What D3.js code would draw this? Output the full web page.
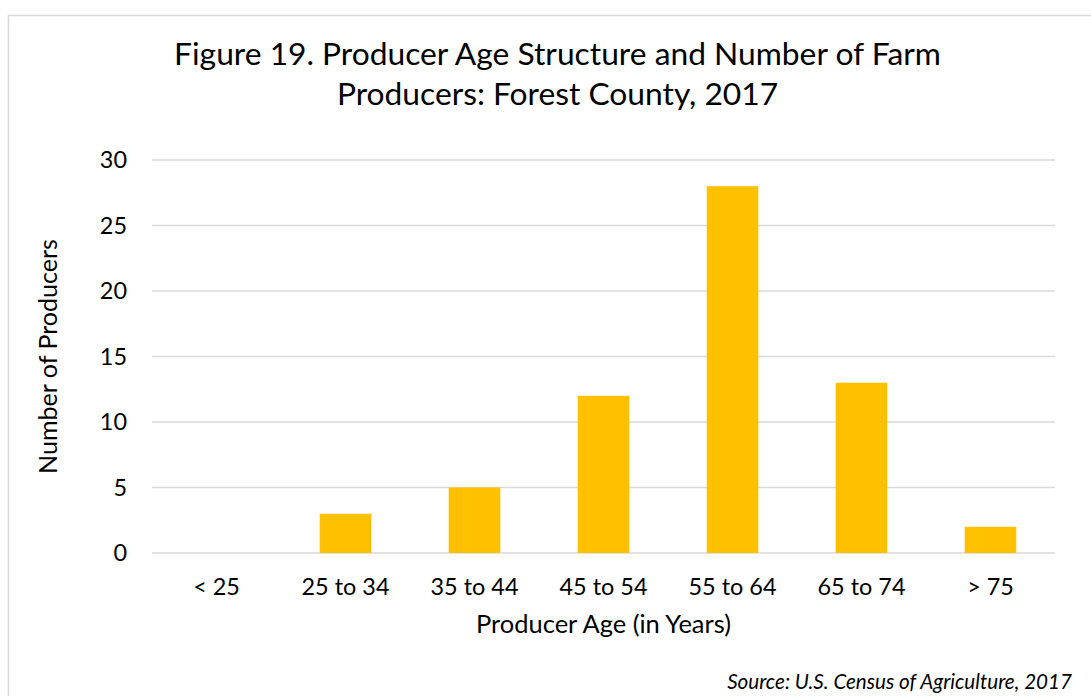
<!DOCTYPE html>
<html>
<head>
<meta charset="utf-8">
<script src="https://cdn.jsdelivr.net/npm/d3@7"></script>
<style>
  html, body { margin: 0; padding: 0; background: #fff; }
  svg { display: block; }
  text { font-family: Lato, "Open Sans", sans-serif; fill: #000; }
</style>
</head>
<body>
<script>
const categories = ["< 25", "25 to 34", "35 to 44", "45 to 54", "55 to 64", "65 to 74", "> 75"];
const values = [0, 3, 5, 12, 28, 13, 2];
const yTicks = [0, 5, 10, 15, 20, 25, 30];
const titleLines = ["Figure 19. Producer Age Structure and Number of Farm", "Producers: Forest County, 2017"];
const xTitle = "Producer Age (in Years)";
const yTitle = "Number of Producers";
const source = "Source: U.S. Census of Agriculture, 2017";

const W = 1091, H = 696;
const plot = { left: 152, right: 1055, top: 160, bottom: 553 };

const svg = d3.select("body").append("svg").attr("width", W).attr("height", H);

// outer border
svg.append("rect")
  .attr("x", 8.5).attr("y", 15.5).attr("width", W + 20).attr("height", H + 20)
  .attr("fill", "none").attr("stroke", "#d9d9d9").attr("stroke-width", 1.5);

function fit(sel, target) {
  sel.style("font-size", "20px");
  const w = sel.node().getComputedTextLength();
  const fs = 20 * target / w;
  sel.style("font-size", fs + "px");
  return fs;
}

const x = d3.scaleBand().domain(categories).range([plot.left, plot.right]).paddingInner(0.6).paddingOuter(0.3);
const y = d3.scaleLinear().domain([0, 30]).range([plot.bottom, plot.top]);

// gridlines
svg.append("g").selectAll("line").data(yTicks).join("line")
  .attr("x1", plot.left).attr("x2", plot.right)
  .attr("y1", d => y(d)).attr("y2", d => y(d))
  .attr("stroke", "#d9d9d9").attr("stroke-width", 1.4);

// bars
svg.append("g").selectAll("rect").data(values).join("rect")
  .attr("x", (d, i) => x(categories[i]))
  .attr("width", x.bandwidth())
  .attr("y", d => y(d))
  .attr("height", d => y(0) - y(d))
  .attr("fill", "#FFC000");

// measure tick font size
const probe = svg.append("text").text("45 to 54");
const tickFs = fit(probe, 88);
probe.remove();

// y axis
const gy = svg.append("g").attr("transform", `translate(${plot.left},0)`)
  .call(d3.axisLeft(y).tickValues(yTicks).tickSize(0).tickPadding(25));
gy.select(".domain").remove();
gy.selectAll("text").style("font-size", tickFs + "px").style("font-family", "Lato, 'Open Sans', sans-serif").attr("fill", "#000");

// x axis
const gx = svg.append("g").attr("transform", `translate(0,${plot.bottom})`)
  .call(d3.axisBottom(x).tickSize(0));
gx.select(".domain").remove();
gx.selectAll("text").attr("dy", null).attr("y", 42)
  .style("font-size", tickFs + "px").style("font-family", "Lato, 'Open Sans', sans-serif").attr("fill", "#000");

// title
const tcx = 557.5;
const t1 = svg.append("text").attr("x", tcx).attr("y", 65).attr("text-anchor", "middle").text(titleLines[0]);
const titleFs = fit(t1, 767);
svg.append("text").attr("x", tcx).attr("y", 105).attr("text-anchor", "middle")
  .style("font-size", titleFs + "px").text(titleLines[1]);

// axis titles
const xt = svg.append("text").attr("x", (plot.left + plot.right) / 2).attr("y", 633)
  .attr("text-anchor", "middle").text(xTitle);
fit(xt, 255);

const yt = svg.append("text").attr("transform", `translate(57,${(plot.top + plot.bottom) / 2}) rotate(-90)`)
  .attr("text-anchor", "middle").text(yTitle);
fit(yt, 235);

// source
const st = svg.append("text").attr("x", 1072).attr("y", 689).attr("text-anchor", "end")
  .style("font-style", "italic").text(source);
fit(st, 345);
</script>
</body>
</html>
